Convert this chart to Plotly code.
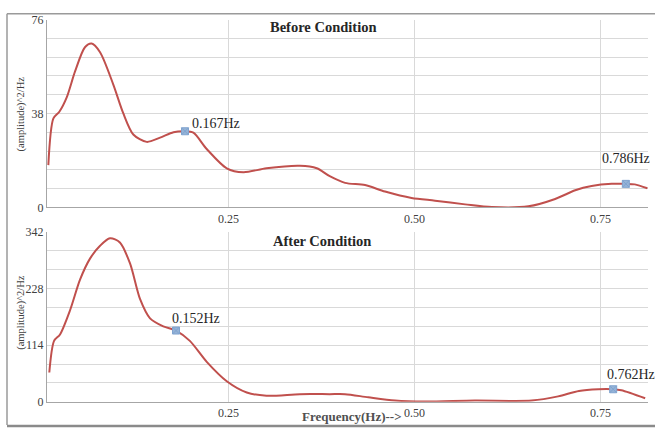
import plotly.graph_objects as go

# ---- data ----
freq_before = [0.0078, 0.0146, 0.0226, 0.0325, 0.0437, 0.057, 0.066, 0.0773, 0.095, 0.1086,
               0.122, 0.140, 0.158, 0.176, 0.1915, 0.2027, 0.2207, 0.2476, 0.27, 0.301,
               0.346, 0.3686, 0.386, 0.4066, 0.4335, 0.4603, 0.496, 0.5276, 0.568, 0.604,
               0.653, 0.689, 0.716, 0.738, 0.765, 0.784, 0.796, 0.813]
psd_before = [17.1, 36.0, 38.7, 44.5, 55.0, 64.8, 66.3, 62.8, 49.8, 38.0,
              29.5, 26.5, 28.2, 30.4, 30.8, 30.2, 23.6, 15.8, 14.2, 15.8,
              16.8, 15.8, 12.6, 9.9, 9.0, 6.4, 3.8, 2.7, 1.2, 0.1,
              0.4, 3.4, 6.9, 8.6, 9.5, 9.5, 9.3, 7.7]

freq_after = [0.0091, 0.0155, 0.0235, 0.037, 0.0504, 0.0638, 0.0773, 0.0907, 0.104, 0.1176,
              0.131, 0.1445, 0.1623, 0.1794, 0.198, 0.2207, 0.2476, 0.2745, 0.301, 0.346,
              0.386, 0.4066, 0.4379, 0.4738, 0.514, 0.581, 0.6575, 0.693, 0.721, 0.747,
              0.767, 0.778, 0.81]
psd_after = [58.9, 122.4, 135.4, 184.0, 245.4, 287.6, 313.4, 328.4, 320.0, 277.9,
             206.6, 167.7, 151.6, 143.2, 122.4, 80.3, 41.4, 18.8, 12.3, 15.5,
             15.5, 15.5, 9.1, 2.6, 0.6, 2.6, 2.6, 11.0, 22.0, 25.3,
             25.3, 23.3, 7.2]

peak_before_f = [0.1915, 0.784]
peak_before_v = [30.8, 9.5]
peak_before_lbl = ["0.167Hz", "0.786Hz"]
peak_after_f = [0.1794, 0.767]
peak_after_v = [143.2, 25.3]
peak_after_lbl = ["0.152Hz", "0.762Hz"]

x_ticks = [0.25, 0.50, 0.75]
x_tick_text = ["0.25", "0.50", "0.75"]
y_max_before = 76
y_grid_before = 7.6       # 10 gridline intervals
y_label_before = [0, 38, 76]
y_max_after = 342
y_grid_after = 38         # 9 gridline intervals
y_label_after = [0, 114, 228, 342]

# ---- styling ----
LINE = "#c0504d"
MARK = "#95b3d7"
GRID = "#d9d9d9"
AXC = "#a6a6a6"
FONT = "Liberation Serif"
W, H = 655, 435


def px(x):
    return x / W


def py(y):
    return 1 - y / H


fig = go.Figure()
fig.add_trace(go.Scatter(x=freq_before, y=psd_before, mode="lines",
                         line=dict(color=LINE, width=2, shape="spline", smoothing=0.8),
                         xaxis="x", yaxis="y", hoverinfo="skip"))
fig.add_trace(go.Scatter(x=peak_before_f, y=peak_before_v, mode="markers",
                         marker=dict(symbol="square-x", size=7, color=MARK,
                                     line=dict(color="#7fa3cf", width=1)),
                         xaxis="x", yaxis="y"))
fig.add_trace(go.Scatter(x=freq_after, y=psd_after, mode="lines",
                         line=dict(color=LINE, width=2, shape="spline", smoothing=0.8),
                         xaxis="x2", yaxis="y2", hoverinfo="skip"))
fig.add_trace(go.Scatter(x=peak_after_f, y=peak_after_v, mode="markers",
                         marker=dict(symbol="square-x", size=7, color=MARK,
                                     line=dict(color="#7fa3cf", width=1)),
                         xaxis="x2", yaxis="y2"))


def ygrid(ymax, step, labels):
    n = int(round(ymax / step))
    vals = [round(i * step, 4) for i in range(n + 1)]
    txt = []
    for v in vals:
        match = [l for l in labels if abs(l - v) < 1e-6]
        txt.append(str(match[0]) if match else "")
    return vals, txt


yv1, yt1 = ygrid(y_max_before, y_grid_before, y_label_before)
yv2, yt2 = ygrid(y_max_after, y_grid_after, y_label_after)

xrange_ = [0.006, 0.8138]
xdom = [px(47), px(648)]

common_x = dict(range=xrange_, tickvals=x_ticks, ticktext=x_tick_text, showgrid=True,
                gridcolor=GRID, gridwidth=1, showline=True, linecolor=AXC, linewidth=1,
                zeroline=False, ticks="", tickfont=dict(family=FONT, size=12, color="#404040"),
                domain=xdom)
common_y = dict(showgrid=True, gridcolor=GRID, gridwidth=1, showline=True, linecolor=AXC,
                linewidth=1, zeroline=False, ticks="", ticklabelstandoff=0,
                tickfont=dict(family=FONT, size=12, color="#404040"))

fig.update_layout(
    width=W, height=H, margin=dict(l=0, r=0, t=0, b=0),
    paper_bgcolor="white", plot_bgcolor="white", showlegend=False,
    xaxis=dict(anchor="y", **common_x),
    yaxis=dict(anchor="x", domain=[py(207), py(13)], range=[0, y_max_before],
               tickvals=yv1, ticktext=yt1, **common_y),
    xaxis2=dict(anchor="y2", **common_x),
    yaxis2=dict(anchor="x2", domain=[py(408), py(232)], range=[0, y_max_after],
                tickvals=yv2, ticktext=yt2, **common_y),
)

ann = []
# titles
ann.append(dict(x=px(323), y=py(21), xref="paper", yref="paper", text="<b>Before Condition</b>",
                showarrow=False, yanchor="middle", font=dict(family=FONT, size=14.5, color="#262626")))
ann.append(dict(x=px(322), y=py(242), xref="paper", yref="paper", text="<b>After Condition</b>",
                showarrow=False, yanchor="middle", font=dict(family=FONT, size=14.5, color="#262626")))
ann.append(dict(x=px(352), y=py(423), xref="paper", yref="paper", text="<b>Frequency(Hz)--></b>",
                showarrow=False, yanchor="middle", font=dict(family=FONT, size=13, color="#505050")))
for yc in (111, 316):
    ann.append(dict(x=px(13), y=py(yc), xref="paper", yref="paper", text="(amplitude)^2/Hz",
                    showarrow=False, textangle=-90, yanchor="middle",
                    font=dict(family=FONT, size=10.5, color="#404040")))
# peak labels
LBL = dict(family=FONT, size=14, color="#262626")
ann.append(dict(x=peak_before_f[0], y=peak_before_v[0], xref="x", yref="y", text=peak_before_lbl[0],
                showarrow=False, xanchor="left", xshift=5, yshift=8, font=LBL))
ann.append(dict(x=peak_before_f[1], y=peak_before_v[1], xref="x", yref="y", text=peak_before_lbl[1],
                showarrow=False, xanchor="center", yshift=25, font=LBL))
ann.append(dict(x=peak_after_f[0], y=peak_after_v[0], xref="x2", yref="y2", text=peak_after_lbl[0],
                showarrow=False, xanchor="left", xshift=-6, yshift=12, font=LBL))
ann.append(dict(x=peak_after_f[1], y=peak_after_v[1], xref="x2", yref="y2", text=peak_after_lbl[1],
                showarrow=False, xanchor="left", xshift=-8, yshift=15, font=LBL))
fig.update_layout(annotations=ann)

# outer frame of the screenshot
fig.update_layout(shapes=[
    dict(type="line", xref="paper", yref="paper", x0=px(7), x1=1, y0=py(7), y1=py(7),
         layer="below", line=dict(color="#9a9a9a", width=1.5)),
    dict(type="line", xref="paper", yref="paper", x0=px(7), x1=px(7), y0=py(7), y1=py(432),
         layer="below", line=dict(color="#9a9a9a", width=1.5)),
    dict(type="line", xref="paper", yref="paper", x0=px(7), x1=1, y0=py(433), y1=py(433),
         layer="below", line=dict(color="#8a8a8a", width=2.5)),
])

post = ("document.body.style.margin='0';document.body.style.overflow='hidden';"
        "var d=document.getElementById('{plot_id}');"
        "d.style.position='absolute';d.style.top='0px';d.style.left='0px';")
fig.write_html("out.html", config={"displayModeBar": False}, post_script=post)
